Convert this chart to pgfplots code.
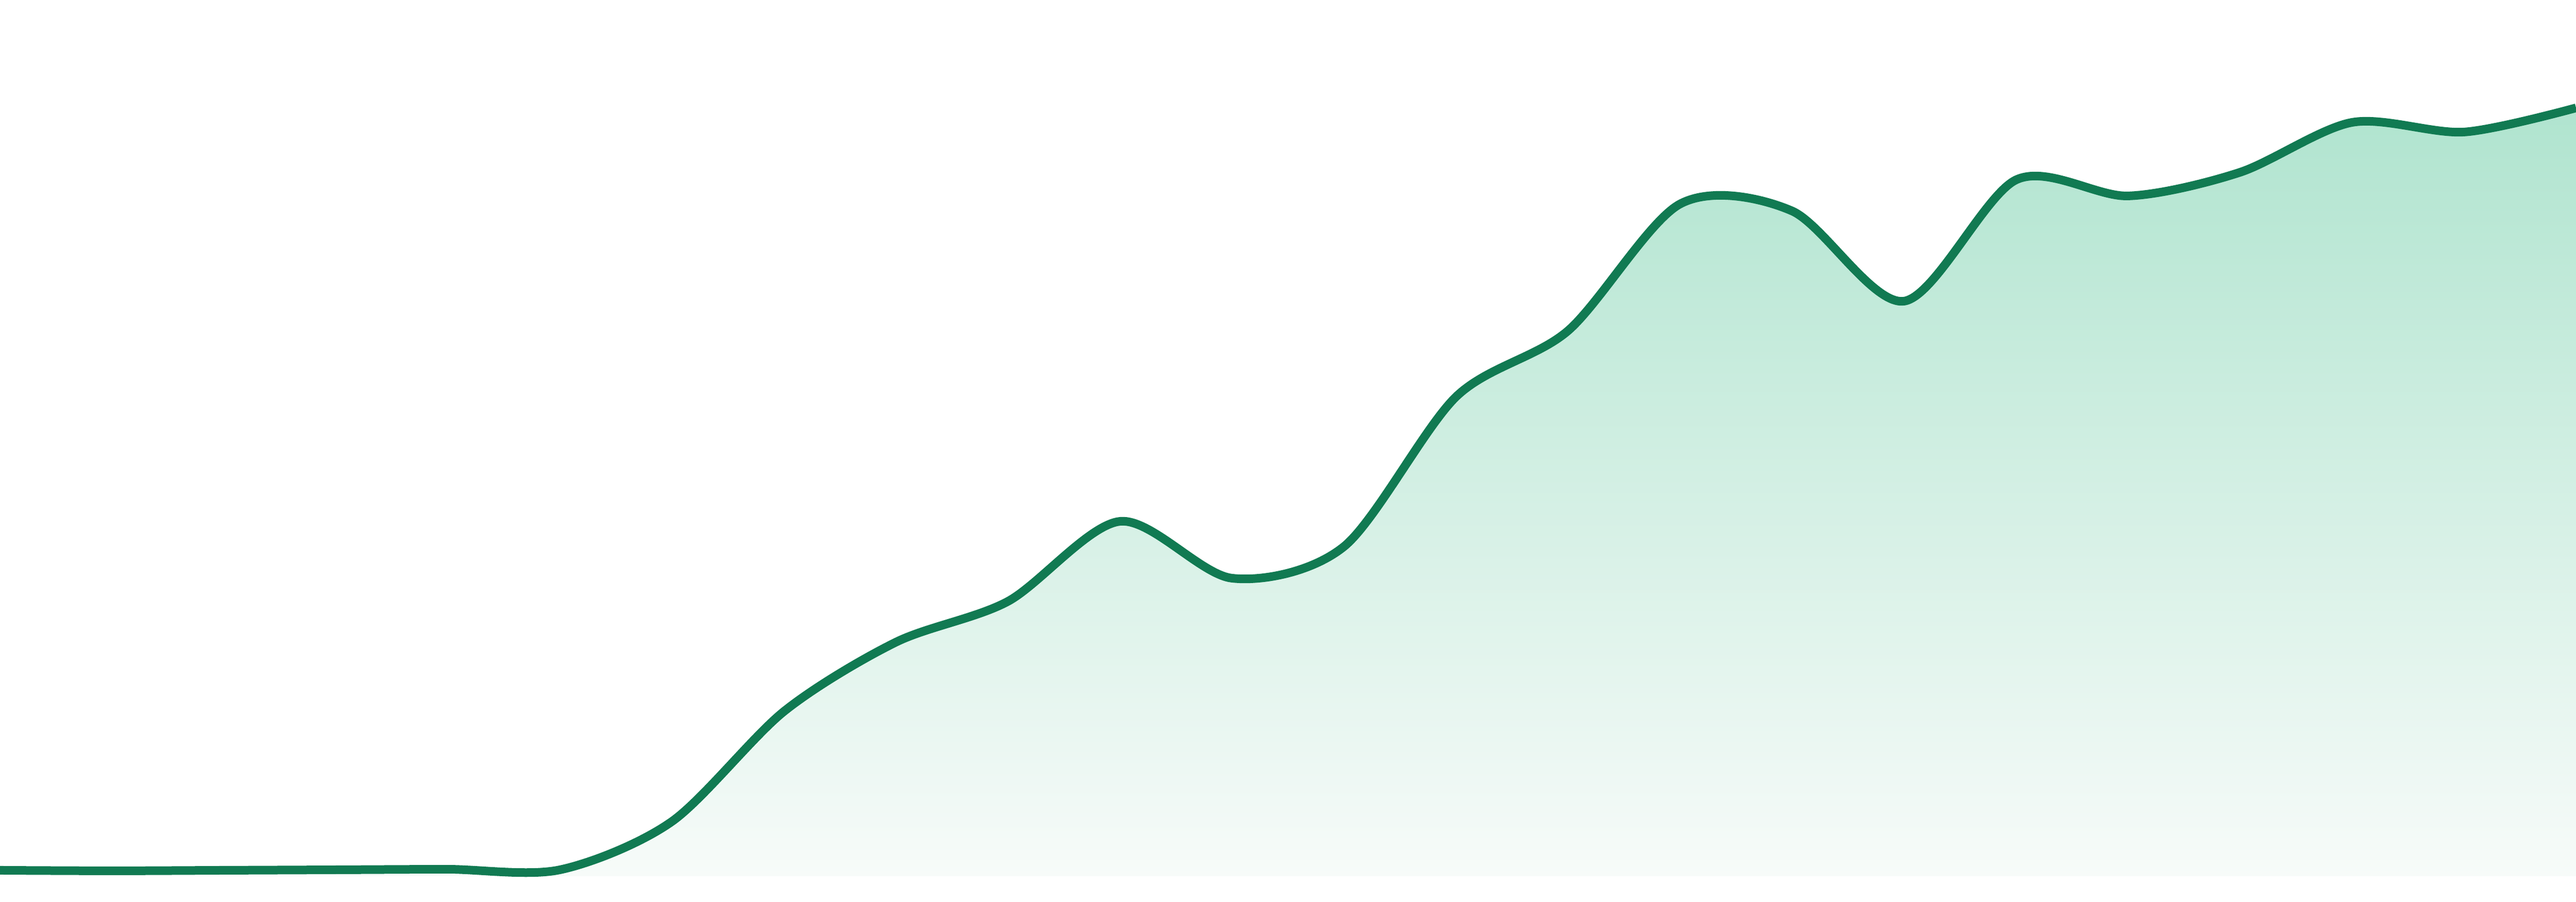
\documentclass[border=0pt]{standalone}
\usepackage{pgfplots}
\pgfplotsset{compat=1.18}
\usepackage{pgfplotstable}

\definecolor{linegreen}{HTML}{117A52}
\definecolor{filltop}{HTML}{B0E4CF}
\definecolor{fillbot}{HTML}{F7FBF9}

% one value per step, 24 steps
\pgfplotstableread{
x y
0 0.69
1 0.63
2 0.69
3 0.75
4 0.81
5 0.75
6 6.38
7 19.19
8 27.25
9 32.00
10 41.31
11 34.69
12 38.38
13 55.81
14 63.50
15 78.25
16 77.44
17 66.94
18 81.06
19 79.19
20 81.94
21 87.75
22 86.63
23 89.44
}\series

\begin{document}
\begin{tikzpicture}
\begin{axis}[
  scale only axis,
  width=480pt, height=168pt,
  hide axis,
  xmin=0, xmax=23,
  ymin=-3, ymax=102,
  clip=true,
]
\addplot[draw=none, shading=axis, top color=filltop, bottom color=fillbot,
  smooth, tension=0.5] table[x=x,y=y] {\series} \closedcycle;
\addplot[linegreen, line width=1.6pt, smooth, tension=0.5] table[x=x,y=y] {\series};
\end{axis}
\pgfresetboundingbox
\path (current axis.south west) rectangle (current axis.north east);
\end{tikzpicture}
\end{document}
